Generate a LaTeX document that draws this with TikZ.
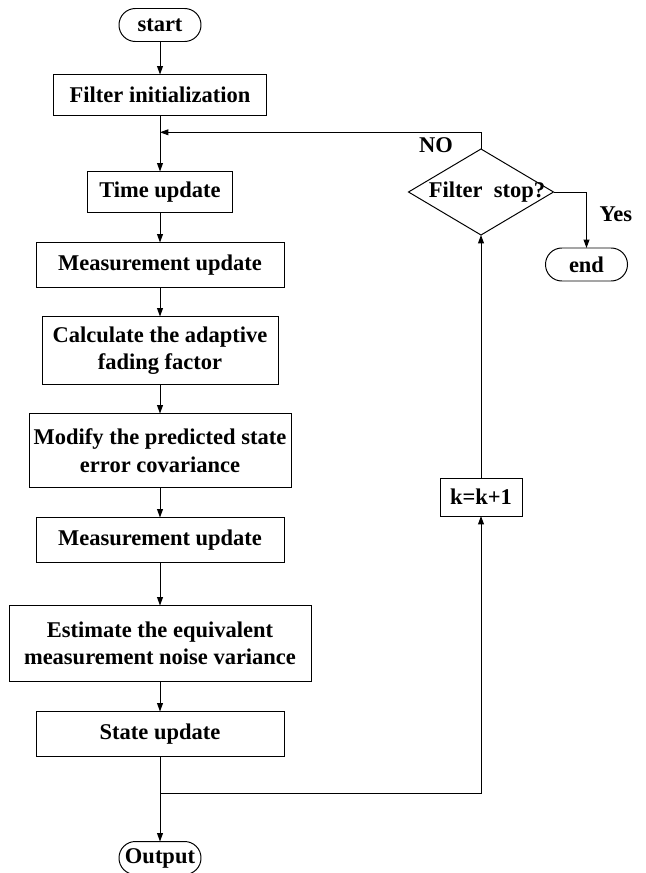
\documentclass[tikz,border=0pt]{standalone}
\usepackage{fontspec}
\setmainfont{Liberation Serif}
\usepackage{tikz}
\usetikzlibrary{positioning, shapes.geometric, arrows.meta, calc}

\begin{document}
\begin{tikzpicture}[
                  node distance=0.75cm,
                  every node/.style={font=\bfseries\fontsize{16}{19.5}\selectfont},
                  process/.style={rectangle, draw, line width=0.7pt, outer sep=0pt, inner xsep=2pt, align=center, minimum height=1.125cm},
                  term/.style={rectangle, draw, line width=0.7pt, outer sep=0pt, rounded corners=0.41cm, minimum width=2.05cm, minimum height=0.825cm, inner sep=0pt},
                  decision/.style={diamond, draw, line width=0.7pt, outer sep=0pt, inner sep=0pt, minimum width=3.625cm, minimum height=2.15cm},
                  arrow/.style={line width=0.7pt, -{Triangle[length=6pt, width=4.2pt]}},
                  line/.style={line width=0.7pt}
            ]
            \useasboundingbox (0,0) rectangle (16.15,-21.825);

            % Nodes
            \node (start) [term] at (4.0,-0.625) {start};
            \node (init) [process, below=0.825cm of start, minimum width=5.325cm, minimum height=1.025cm] {Filter initialization};
            \node (time) [process, below=1.4cm of init, minimum width=3.625cm, minimum height=1.025cm] {Time update};
            \node (measA) [process, below=of time, minimum width=6.2cm] {Measurement update};
            \node (fading) [process, below=0.725cm of measA, minimum width=5.9cm, minimum height=1.7cm] {Calculate the adaptive\\fading factor};
            \node (modify) [process, below=0.725cm of fading, minimum width=6.55cm, minimum height=1.85cm] {Modify the predicted state\\error covariance};
            \node (measB) [process, below=of modify, minimum width=6.2cm] {Measurement update};
            \node (noise) [process, below=1.075cm of measB, minimum width=7.55cm, minimum height=1.9cm] {Estimate the equivalent\\measurement noise variance};
            \node (state) [process, below=of noise, minimum width=6.2cm] {State update};
            \coordinate [below=0.925cm of state] (split);
            \node (output) [term, below=2.125cm of state] {Output};

            % Loop on the right
            \node (stop) [decision, right=4.4cm of time] {\makebox[0pt]{\hspace{0.3cm}Filter\ \ stop?}};
            \node (end) [term, below=1.4cm of stop.east, xshift=0.825cm] {end};
            \node (count) [process, below=6.075cm of stop, minimum width=2.05cm, minimum height=0.95cm] {k=k+1};
            \coordinate (merge) at ($(init.south)!0.3!(time.north)$);

            % Arrows
            \draw [arrow] (start) -- (init);
            \draw [arrow] (init) -- (time);
            \draw [arrow] (time) -- (measA);
            \draw [arrow] (measA) -- (fading);
            \draw [arrow] (fading) -- (modify);
            \draw [arrow] (modify) -- (measB);
            \draw [arrow] (measB) -- (noise);
            \draw [arrow] (noise) -- (state);
            \draw [line] (state.south) -- (split);
            \draw [arrow] (split) -- (output);

            % Arrows for the loop
            \draw [arrow] (split) -| (count.south);
            \draw [arrow] (count.north) -- (stop.south);
            \draw [arrow] (stop.north) |- node[pos=0.57, below] {NO} (merge);
            \draw [arrow] (stop.east) -| node[pos=0.7, right, xshift=0.2cm] {Yes} (end.north);

      \end{tikzpicture}
\end{document}
